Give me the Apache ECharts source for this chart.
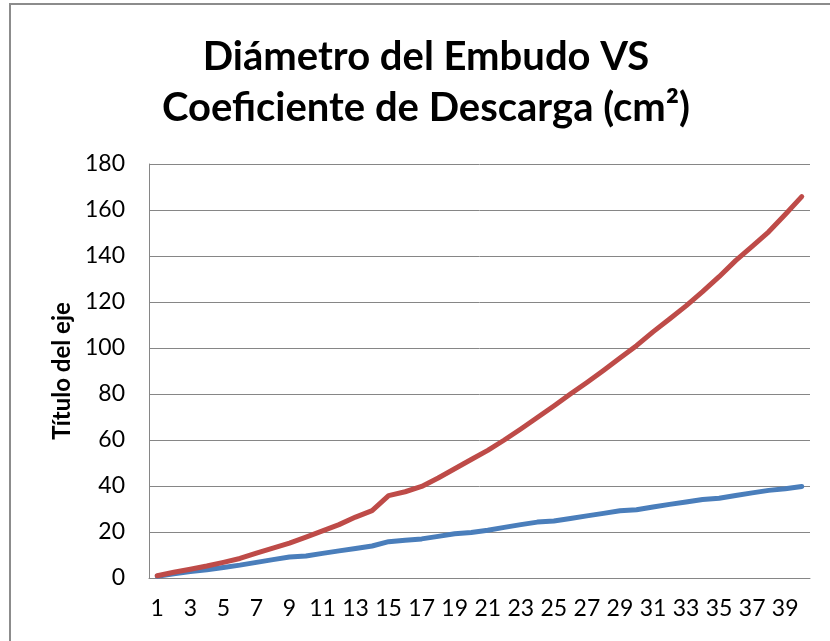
<!DOCTYPE html>
<html>
<head>
<meta charset="utf-8">
<title>Diámetro del Embudo VS Coeficiente de Descarga</title>
<script src="https://cdn.jsdelivr.net/npm/echarts@6/dist/echarts.min.js"></script>
<style>
  html, body { margin: 0; padding: 0; background: #ffffff; }
  #chart { width: 830px; height: 641px; }
</style>
</head>
<body>
<div id="chart"></div>
<script>
// Measurement index (1..40)
const categories = [
  '1','2','3','4','5','6','7','8','9','10',
  '11','12','13','14','15','16','17','18','19','20',
  '21','22','23','24','25','26','27','28','29','30',
  '31','32','33','34','35','36','37','38','39','40'
];

// Funnel diameter (blue line)
const diametro = [
  0.8, 1.8, 2.8, 3.6, 4.6, 5.6, 6.8, 8.0, 9.1, 9.6,
  10.7, 11.8, 12.8, 13.9, 15.8, 16.4, 17.0, 18.1, 19.2, 19.8,
  20.8, 22.0, 23.2, 24.3, 24.8, 25.9, 27.0, 28.1, 29.2, 29.7,
  30.9, 32.0, 33.0, 34.1, 34.7, 35.9, 37.0, 38.1, 38.8, 39.8
];

// Discharge coefficient (red line)
const coeficiente = [
  1.0, 2.5, 3.8, 5.2, 6.8, 8.5, 10.8, 13.0, 15.2, 17.8,
  20.5, 23.2, 26.5, 29.3, 35.8, 37.5, 39.8, 43.5, 47.5, 51.5,
  55.5, 60.0, 64.8, 69.8, 74.8, 80.0, 85.0, 90.2, 95.6, 101.0,
  107.0, 112.6, 118.3, 124.5, 131.0, 138.0, 144.2, 150.5, 158.0, 165.8
];

const yTicks = { min: 0, max: 180, step: 20 };

const chart = echarts.init(document.getElementById('chart'), null, { renderer: 'canvas' });

const axisGray = '#868686';
const font = 'Lato, "Open Sans", "Noto Sans", sans-serif';

chart.setOption({
  backgroundColor: '#ffffff',
  animation: false,
  title: {
    text: 'Diámetro del Embudo VS\nCoeficiente de Descarga (cm²)',
    // centred on the middle of the framed chart area
    left: 426,
    textAlign: 'center',
    top: 32,
    padding: 0,
    textStyle: {
      fontFamily: font,
      fontWeight: 'bold',
      fontSize: 40,
      lineHeight: 51,
      color: '#000000'
    }
  },
  graphic: [{
    type: 'rect',
    silent: true,
    shape: { x: 10, y: 4, width: 840, height: 700 },
    style: { fill: 'none', stroke: '#8c8c8c', lineWidth: 2 }
  }],
  grid: { left: 149, top: 164, width: 661, height: 414, containLabel: false },
  xAxis: {
    type: 'category',
    data: categories,
    boundaryGap: true,
    axisLine: { show: true, lineStyle: { color: axisGray, width: 1 } },
    axisTick: { show: false },
    axisLabel: {
      interval: 1,
      margin: 19,
      fontFamily: font,
      fontSize: 23,
      color: '#000000'
    },
    splitLine: { show: false }
  },
  yAxis: {
    type: 'value',
    min: yTicks.min,
    max: yTicks.max,
    interval: yTicks.step,
    name: 'Título del eje',
    nameLocation: 'middle',
    nameRotate: 90,
    nameGap: 72,
    nameTextStyle: {
      fontFamily: font,
      fontWeight: 'bold',
      fontSize: 24,
      color: '#000000'
    },
    axisLine: { show: true, lineStyle: { color: axisGray, width: 1 } },
    axisTick: { show: false },
    axisLabel: {
      margin: 24,
      fontFamily: font,
      fontSize: 23,
      color: '#000000'
    },
    splitLine: { show: true, lineStyle: { color: axisGray, width: 1 } }
  },
  series: [
    {
      name: 'Diámetro',
      type: 'line',
      data: diametro,
      symbol: 'none',
      smooth: false,
      lineStyle: { color: '#4a7ebb', width: 5, cap: 'round', join: 'round' },
      itemStyle: { color: '#4a7ebb' }
    },
    {
      name: 'Coeficiente',
      type: 'line',
      data: coeficiente,
      symbol: 'none',
      smooth: false,
      lineStyle: { color: '#be4b48', width: 5, cap: 'round', join: 'round' },
      itemStyle: { color: '#be4b48' }
    }
  ]
});
</script>
</body>
</html>
